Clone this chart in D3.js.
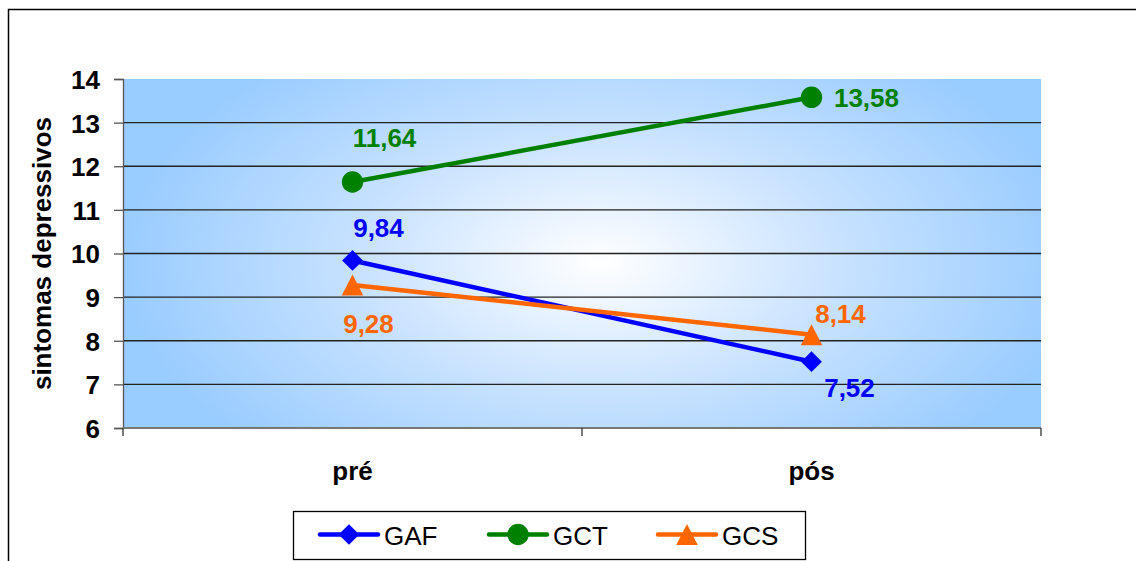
<!DOCTYPE html>
<html>
<head>
<meta charset="utf-8">
<script src="https://cdn.jsdelivr.net/npm/d3@7"></script>
<style>
  html, body { margin: 0; padding: 0; background: #fff; }
  svg { display: block; font-family: "Liberation Sans", Arial, sans-serif; }
</style>
</head>
<body>
<svg id="chart" width="1136" height="561"></svg>
<script>
// Depressive-symptom means per group, before and after
const categories = ["pré", "pós"];
const seriesNames = ["GAF", "GCT", "GCS"];
const gafValues = [9.84, 7.52];
const gctValues = [11.64, 13.58];
const gcsValues = [9.28, 8.14];
const yTicks = [6, 7, 8, 9, 10, 11, 12, 13, 14];
const yTitle = "sintomas depressivos";

const series = [
  { name: seriesNames[0], values: gafValues, color: "#0000FF", symbol: "diamond" },
  { name: seriesNames[1], values: gctValues, color: "#008000", symbol: "circle" },
  { name: seriesNames[2], values: gcsValues, color: "#FF6600", symbol: "triangle" }
];

const FONT = "'Liberation Sans', Arial, sans-serif";
const svg = d3.select("#chart");
const plot = { left: 123, top: 79, right: 1041, bottom: 428 };

// outer chart frame (continues past the right and bottom edges)
svg.append("rect")
  .attr("x", 8.5).attr("y", 9.5).attr("width", 1200).attr("height", 700)
  .attr("fill", "none").attr("stroke", "#000").attr("stroke-width", 1.5);

const x = d3.scaleBand().domain(categories).range([plot.left, plot.right]);
const y = d3.scaleLinear().domain([6, 14]).range([plot.bottom, plot.top]);

// plot-area radial gradient
const defs = svg.append("defs");
const gcx = 600, gcy = 262;
const grad = defs.append("radialGradient")
  .attr("id", "bg").attr("gradientUnits", "userSpaceOnUse")
  .attr("cx", gcx).attr("cy", gcy).attr("r", 480)
  .attr("gradientTransform", `translate(${gcx},${gcy}) scale(1,0.55) translate(${-gcx},${-gcy})`);
grad.append("stop").attr("offset", "0").attr("stop-color", "#FFFFFF");
grad.append("stop").attr("offset", "0.5").attr("stop-color", "#C8E2FF");
grad.append("stop").attr("offset", "1").attr("stop-color", "#99CCFF");

svg.append("rect")
  .attr("x", plot.left).attr("y", plot.top)
  .attr("width", plot.right - plot.left).attr("height", plot.bottom - plot.top)
  .attr("fill", "url(#bg)");

// horizontal gridlines
svg.append("g").selectAll("line")
  .data(yTicks.filter(t => t > 6 && t < 14))
  .join("line")
  .attr("x1", plot.left).attr("x2", plot.right)
  .attr("y1", d => y(d)).attr("y2", d => y(d))
  .attr("stroke", "#222").attr("stroke-width", 1.4);

// y axis
const yAxis = svg.append("g")
  .attr("transform", `translate(${plot.left},0)`)
  .call(d3.axisLeft(y).tickValues(yTicks).tickSize(9).tickPadding(14).tickFormat(d3.format("d")));
yAxis.select(".domain").attr("stroke", "#555").attr("stroke-width", 1.3);
yAxis.selectAll(".tick line").attr("stroke", "#555").attr("stroke-width", 1.3);
yAxis.selectAll(".tick text")
  .attr("font-size", 26).attr("font-weight", "bold").attr("fill", "#000")
  .attr("font-family", FONT).attr("dy", "0.36em");

// x axis with category boundary ticks
const xAxisG = svg.append("g").attr("transform", `translate(0,${plot.bottom})`);
xAxisG.append("line")
  .attr("x1", plot.left).attr("x2", plot.right)
  .attr("stroke", "#777").attr("stroke-width", 2);
const bounds = [plot.left, ...categories.map(c => x(c) + x.bandwidth())];
xAxisG.selectAll("line.bt").data(bounds).join("line").attr("class", "bt")
  .attr("x1", d => d).attr("x2", d => d).attr("y1", 0).attr("y2", 8)
  .attr("stroke", "#333").attr("stroke-width", 1.3);
xAxisG.selectAll("text").data(categories).join("text")
  .attr("x", d => x(d) + x.bandwidth() / 2).attr("y", 52)
  .attr("text-anchor", "middle").attr("font-size", 26).attr("font-weight", "bold")
  .text(d => d);

// y title
svg.append("text")
  .attr("transform", `translate(51,${(plot.top + plot.bottom) / 2}) rotate(-90)`)
  .attr("text-anchor", "middle").attr("font-size", 26).attr("font-weight", "bold")
  .text(yTitle);

const cx = c => x(c) + x.bandwidth() / 2;

// marker shapes
const triangleType = {
  draw(ctx, size) {
    const w = Math.sqrt(size) * 0.74, h = Math.sqrt(size) * 0.72;
    ctx.moveTo(0, -h); ctx.lineTo(w, h); ctx.lineTo(-w, h); ctx.closePath();
  }
};
const symbolPath = {
  diamond: d3.symbol().type(d3.symbolSquare).size(215),
  circle: d3.symbol().type(d3.symbolCircle).size(360),
  triangle: d3.symbol().type(triangleType).size(212)
};
const symbolRotate = { diamond: 45, circle: 0, triangle: 0 };

const line = d3.line().x((d, i) => cx(categories[i])).y(d => y(d));

series.forEach(s => {
  svg.append("path").datum(s.values)
    .attr("d", line).attr("fill", "none")
    .attr("stroke", s.color).attr("stroke-width", 4.5);
  svg.append("g").selectAll("path").data(s.values).join("path")
    .attr("d", symbolPath[s.symbol]())
    .attr("transform", (d, i) => `translate(${cx(categories[i])},${y(d)}) rotate(${symbolRotate[s.symbol]})`)
    .attr("fill", s.color);
});

// value labels
const fmt = v => d3.format(".2f")(v).replace(".", ",");
const labelOffsets = {
  GAF: [[26, -23], [38, 35]],
  GCT: [[32, -35], [55, 10]],
  GCS: [[16, 48], [29, -12]]
};
series.forEach(s => {
  svg.append("g").selectAll("text").data(s.values).join("text")
    .attr("x", (d, i) => cx(categories[i]) + labelOffsets[s.name][i][0])
    .attr("y", (d, i) => y(d) + labelOffsets[s.name][i][1])
    .attr("text-anchor", "middle").attr("font-size", 26).attr("font-weight", "bold")
    .attr("fill", s.color)
    .text(d => fmt(d));
});

// legend
const legend = svg.append("g");
legend.append("rect")
  .attr("x", 293.5).attr("y", 511.5).attr("width", 512).attr("height", 48)
  .attr("fill", "#fff").attr("stroke", "#000").attr("stroke-width", 1.3);
const legendX = [320, 489, 658];
series.forEach((s, i) => {
  const lx = legendX[i];
  const g = legend.append("g").attr("transform", `translate(${lx},534.5)`);
  g.append("line").attr("x1", 0).attr("x2", 58)
    .attr("stroke", s.color).attr("stroke-width", 4.5).attr("stroke-linecap", "round");
  g.append("path").attr("d", symbolPath[s.symbol]())
    .attr("transform", `translate(29,0) rotate(${symbolRotate[s.symbol]})`)
    .attr("fill", s.color);
  g.append("text").attr("x", 64).attr("y", 10).attr("font-size", 26)
    .attr("fill", "#000").text(s.name);
});
</script>
</body>
</html>
